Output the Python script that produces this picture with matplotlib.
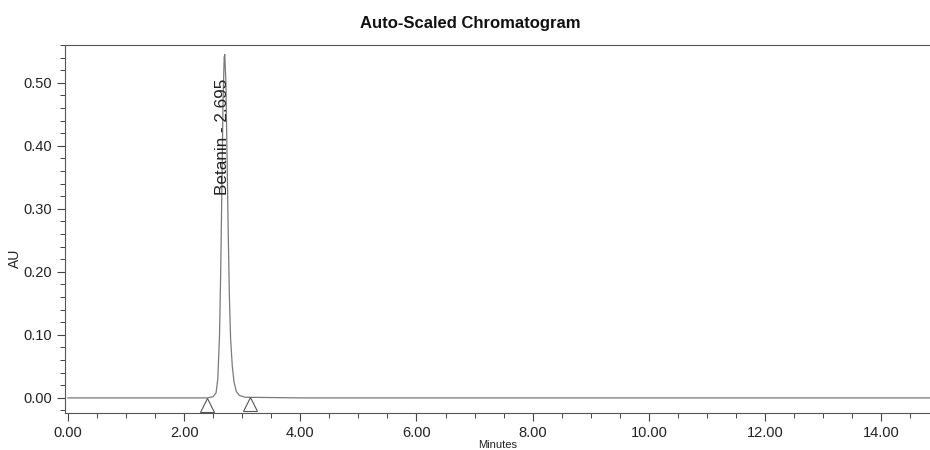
import numpy as np
import matplotlib.pyplot as plt
from matplotlib.ticker import MultipleLocator, FormatStrFormatter

plt.rcParams['font.family'] = ['Liberation Sans', 'DejaVu Sans']

# chromatogram trace (minutes, AU)
minutes = [0.00, 1.00, 2.00, 2.40, 2.50, 2.55, 2.58, 2.61, 2.63, 2.65, 2.67,
           2.69, 2.70, 2.72, 2.74, 2.76, 2.78, 2.80, 2.83, 2.86, 2.90, 2.95,
           3.05, 4.00, 8.00, 12.00, 15.00]
au = [0.000, 0.000, 0.000, 0.000, 0.002, 0.008, 0.030, 0.100, 0.200, 0.330,
      0.470, 0.540, 0.545, 0.500, 0.380, 0.260, 0.160, 0.095, 0.050, 0.025,
      0.010, 0.004, 0.001, 0.000, 0.000, 0.000, 0.000]

# peak start / end markers
marker_t = [2.40, 3.13]
marker_y = [-0.011, -0.010]

peak_name = "Betanin - 2.695"
peak_rt = 2.695

fig = plt.figure(figsize=(9.3, 4.5), dpi=100)
ax = fig.add_axes([0.0699, 0.0822, 0.9301, 0.8178])

ax.plot(minutes, au, color="#7a7a7a", lw=0.9)
ax.plot(marker_t, marker_y, linestyle="none", marker="^", markersize=10,
        markerfacecolor="none", markeredgecolor="#555555", markeredgewidth=0.8)

ax.text(peak_rt - 0.04, 0.322, peak_name, rotation=90, ha="center", va="bottom",
        fontsize=12.3, color="#222222")

ax.set_xlim(-0.05, 14.84)
ax.set_ylim(-0.024, 0.560)

ax.xaxis.set_major_locator(MultipleLocator(2))
ax.xaxis.set_minor_locator(MultipleLocator(0.5))
ax.yaxis.set_major_locator(MultipleLocator(0.1))
ax.yaxis.set_minor_locator(MultipleLocator(0.02))
ax.xaxis.set_major_formatter(FormatStrFormatter("%.2f"))
ax.yaxis.set_major_formatter(FormatStrFormatter("%.2f"))

ax.tick_params(which="major", direction="out", length=6, width=0.8,
               color="#444444", labelsize=10.5, labelcolor="#222222")
ax.tick_params(which="minor", direction="out", length=3.5, width=0.7,
               color="#444444")

for s in ["left", "bottom", "top"]:
    ax.spines[s].set_color("#555555")
    ax.spines[s].set_linewidth(0.8)
ax.spines["right"].set_visible(False)

ax.set_xlabel("Minutes", fontsize=8, color="#222222", labelpad=0)
ax.set_ylabel("AU", fontsize=10, color="#222222")
ax.yaxis.set_label_coords(-0.05, 0.42)
ax.set_title("Auto-Scaled Chromatogram", fontsize=12, fontweight="bold",
             color="#111111", pad=12, x=0.469)

fig.savefig("out.png", dpi=100)
